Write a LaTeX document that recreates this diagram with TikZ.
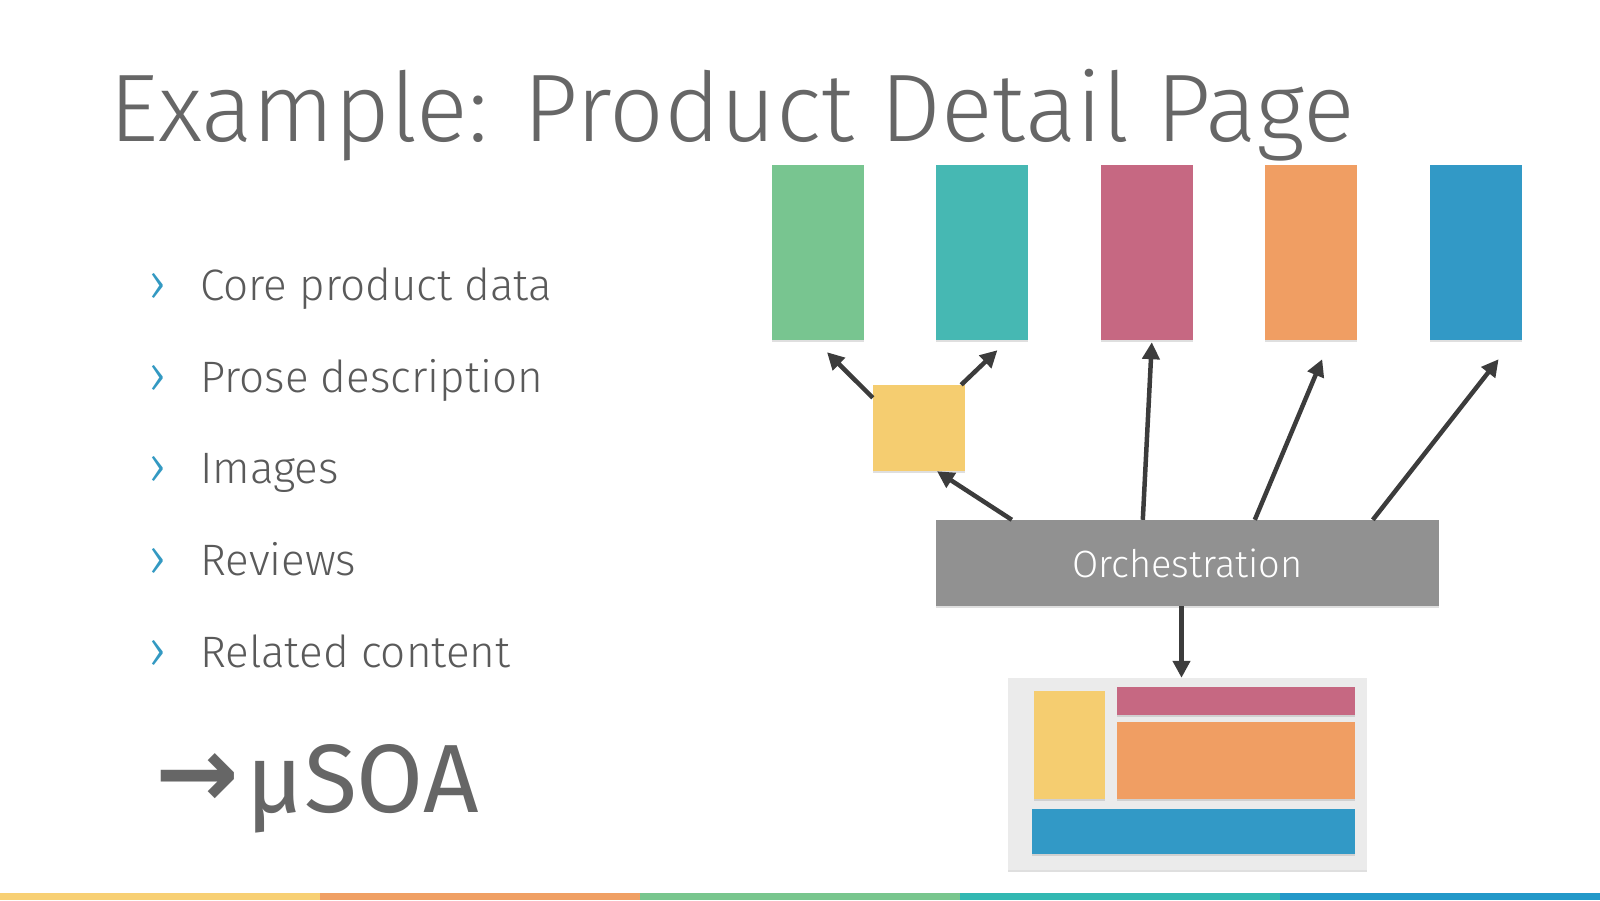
\documentclass[tikz,border=0pt]{standalone}
\usepackage{fontspec}
\setmainfont{Fira Sans}[UprightFont={* Light}]
\newfontfamily\firareg{Fira Sans}
\newfontfamily\flechafont{DejaVu Sans}
\usetikzlibrary{arrows.meta,positioning,shadows}
\definecolor{texto}{HTML}{666666}
\definecolor{textob}{HTML}{5a5a5a}
\definecolor{vineta}{HTML}{3399C2}
\definecolor{verde}{HTML}{78C590}
\definecolor{turq}{HTML}{46B8B3}
\definecolor{rosa}{HTML}{C66882}
\definecolor{naranja}{HTML}{F09E63}
\definecolor{azul}{HTML}{3299C6}
\definecolor{amarillo}{HTML}{F5CD70}
\definecolor{gris}{HTML}{919191}
\definecolor{fondo}{HTML}{EBEBEB}
\definecolor{flecha}{HTML}{3C3C3C}
\definecolor{barraA}{HTML}{F8D074}
\definecolor{barraB}{HTML}{F0A064}
\definecolor{barraC}{HTML}{78C68E}
\definecolor{barraD}{HTML}{32B8B2}
\definecolor{barraE}{HTML}{2399C9}
\tikzset{
  serv/.style={rectangle, inner sep=0pt, minimum width=92pt, minimum height=175pt,
    drop shadow={shadow xshift=0pt, shadow yshift=-1.5pt, opacity=0.25}},
  pieza/.style={rectangle, inner sep=0pt,
    drop shadow={shadow xshift=0pt, shadow yshift=-1.5pt, opacity=0.25}},
  fl/.style={-{Triangle[length=17pt,width=17pt]}, line width=4.5pt, flecha},
  punto/.style={anchor=base west, inner sep=0pt, text=textob, font=\fontsize{44}{48}\selectfont},
  chev/.style={anchor=base west, inner sep=0pt, text=vineta, font=\fontsize{54}{58}\selectfont},
}

\begin{document}
\begin{tikzpicture}[x=1pt, y=-1pt]
  \useasboundingbox (0,0) rectangle (1600,900);

  % titulo
  \node[anchor=base west, inner sep=0pt, text=texto, font=\fontsize{96}{100}\selectfont]
    (titulo) at (109,141) {Example: Product Detail Page};

  % lista
  \node[chev] (c1) at (148,301) {›};
  \node[punto] (p1) at (200,300) {Core product data};
  \node[chev] (c2) at (148,393) {›};
  \node[punto] (p2) at (200,392) {Prose description};
  \node[chev] (c3) at (148,484) {›};
  \node[punto] (p3) at (200,483) {Images};
  \node[chev] (c4) at (148,576) {›};
  \node[punto] (p4) at (200,575) {Reviews};
  \node[chev] (c5) at (148,668) {›};
  \node[punto] (p5) at (200,667) {Related content};
  \node[anchor=base west, inner sep=0pt, text=texto, font=\firareg\fontsize{97}{100}\selectfont]
    (usoa) at (155,812) {\raisebox{5pt}{\flechafont\bfseries\fontsize{100}{100}\selectfont →}\hspace{8pt}µSOA};

  % servicios
  \node[serv, fill=verde] (sverde) at (818,252.5) {};
  \node[serv, fill=turq, right=72pt of sverde] (sturq) {};
  \node[serv, fill=rosa, right=72pt of sturq] (srosa) {};
  \node[serv, fill=naranja, right=72pt of srosa] (snaranja) {};
  \node[serv, fill=azul, right=72pt of snaranja] (sazul) {};
  \node[pieza, fill=amarillo, minimum width=92pt, minimum height=86pt] (samar) at (919,428) {};
  \node[pieza, fill=gris, minimum width=503pt, minimum height=86pt, text=white,
    font=\fontsize{38}{40}\selectfont] (orq) at (1187.5,563) {Orchestration};

  % pagina
  \node[pieza, fill=fondo, minimum width=359pt, minimum height=192pt] (pagina) at (1187.5,774) {};
  \node[pieza, fill=amarillo, minimum width=71pt, minimum height=108pt] (pamar) at (1069.5,745) {};
  \node[pieza, fill=rosa, minimum width=238pt, minimum height=28pt] (prosa) at (1236,701) {};
  \node[pieza, fill=naranja, minimum width=238pt, minimum height=77pt] (pnaranja) at (1236,760.5) {};
  \node[pieza, fill=azul, minimum width=323pt, minimum height=45pt] (pazul) at (1193.5,831.5) {};

  % flechas
  \draw[fl] ([xshift=76pt]orq.north west) -- ([xshift=18pt]samar.south);
  \draw[fl] ([yshift=-13pt]samar.north west) -- ([xshift=9pt,yshift=-12pt]sverde.south);
  \draw[fl] ([xshift=-4pt]samar.north east) -- ([xshift=15pt,yshift=-10pt]sturq.south);
  \draw[fl] ([xshift=207pt]orq.north west) -- ([xshift=5pt,yshift=-2pt]srosa.south);
  \draw[fl] ([xshift=319pt]orq.north west) -- ([xshift=11pt,yshift=-19pt]snaranja.south);
  \draw[fl] ([xshift=437pt]orq.north west) -- ([xshift=23pt,yshift=-19pt]sazul.south);
  \draw[fl] ([xshift=-6pt]orq.south) -- ([xshift=-6pt]pagina.north);

  % barra inferior
  \fill[barraA] (0,893) rectangle (320,900);
  \fill[barraB] (320,893) rectangle (640,900);
  \fill[barraC] (640,893) rectangle (960,900);
  \fill[barraD] (960,893) rectangle (1280,900);
  \fill[barraE] (1280,893) rectangle (1600,900);
\end{tikzpicture}
\end{document}
